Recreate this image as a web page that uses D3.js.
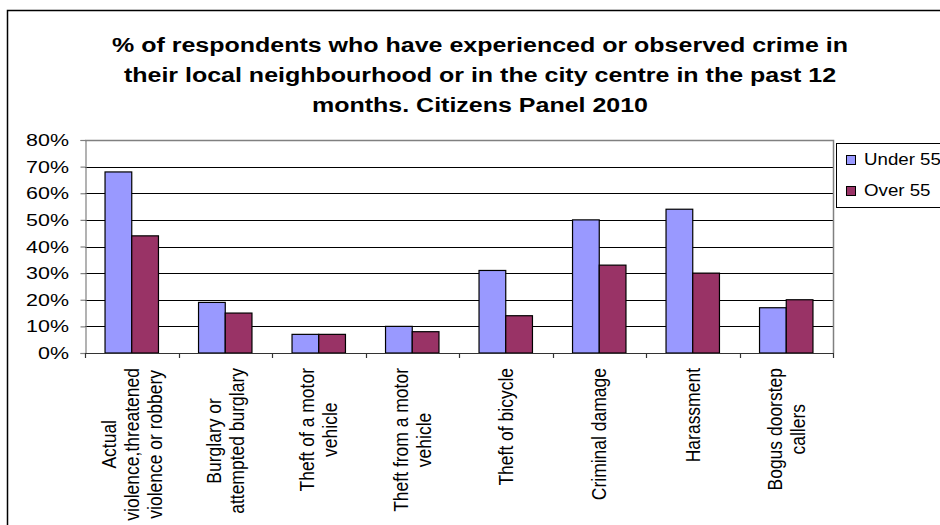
<!DOCTYPE html>
<html>
<head>
<meta charset="utf-8">
<script src="https://cdn.jsdelivr.net/npm/d3@7/dist/d3.min.js"></script>
<style>
	html, body { margin: 0; padding: 0; background: #fff; overflow: hidden; }
	svg { display: block; font-family: "Liberation Sans", Arial, sans-serif; }
</style>
</head>
<body>
<svg id="chart" width="940" height="525"></svg>
<script>
/* global d3 */

// Chart data
const titleLines = [
	'%  of respondents who have experienced or observed crime in',
	'their local neighbourhood or in the city centre in the past 12',
	'months. Citizens Panel 2010',
];
const categories = [
	[ 'Actual', 'violence,threatened', 'violence or robbery' ],
	[ 'Burglary or', 'attempted burglary' ],
	[ 'Theft of a motor', 'vehicle' ],
	[ 'Theft from a motor', 'vehicle' ],
	[ 'Theft of bicycle' ],
	[ 'Criminal damage' ],
	[ 'Harassment' ],
	[ 'Bogus doorstep', 'callers' ],
];
const seriesNames = [ 'Under 55', 'Over 55' ];
const seriesColors = [ '#9999ff', '#993366' ];
const under55 = [ 68, 19, 7, 10, 31, 50, 54, 17 ];
const over55 = [ 44, 15, 7, 8, 14, 33, 30, 20 ];
const yTicks = [ 0, 10, 20, 30, 40, 50, 60, 70, 80 ];

const plot = { left: 85, right: 833, top: 140, bottom: 353 };
const stretch = 1.25; // source picture is a little wider than tall

const svg = d3.select( '#chart' );

// Outer chart frame (runs off the picture right and bottom)
svg.append( 'rect' )
	.attr( 'x', 7.5 )
	.attr( 'y', 10.5 )
	.attr( 'width', 1000 )
	.attr( 'height', 1000 )
	.attr( 'fill', '#fff' )
	.attr( 'stroke', '#000' )
	.attr( 'stroke-width', 1.5 );

// Title
svg.append( 'g' )
	.selectAll( 'text' )
	.data( titleLines )
	.join( 'text' )
	.attr( 'transform', ( d, i ) => `translate(480,${ 52 + i * 30 }) scale(${ stretch },1)` )
	.attr( 'text-anchor', 'middle' )
	.attr( 'font-size', 20 )
	.attr( 'font-weight', 'bold' )
	.attr( 'fill', '#000' )
	.text( ( d ) => d );

// Scales
const keys = categories.map( ( d, i ) => i );
const x = d3.scaleBand()
	.domain( keys )
	.range( [ plot.left, plot.right ] )
	.paddingInner( 1.5 / 3.5 )
	.paddingOuter( 0.75 / 3.5 );

const xSeries = d3.scaleBand()
	.domain( seriesNames )
	.range( [ 0, x.bandwidth() ] );

const y = d3.scaleLinear()
	.domain( [ 0, 80 ] )
	.range( [ plot.bottom, plot.top ] );

// Gridlines
svg.append( 'g' )
	.selectAll( 'line' )
	.data( yTicks.filter( ( d ) => d > 0 && d < 80 ) )
	.join( 'line' )
	.attr( 'x1', plot.left )
	.attr( 'x2', plot.right )
	.attr( 'y1', ( d ) => Math.round( y( d ) ) + 0.5 )
	.attr( 'y2', ( d ) => Math.round( y( d ) ) + 0.5 )
	.attr( 'stroke', '#000' );

// Plot area border (top and right)
svg.append( 'path' )
	.attr( 'd', `M${ plot.left },${ plot.top + 0.5 }H${ plot.right + 0.5 }V${ plot.bottom }` )
	.attr( 'fill', 'none' )
	.attr( 'stroke', '#808080' )
	.attr( 'stroke-width', 1.5 );

// Bars
const rows = categories.map( ( c, i ) => ( { key: i, values: [ under55[ i ], over55[ i ] ] } ) );

svg.append( 'g' )
	.selectAll( 'g' )
	.data( rows )
	.join( 'g' )
	.attr( 'transform', ( d ) => `translate(${ x( d.key ) },0)` )
	.selectAll( 'rect' )
	.data( ( d ) => d.values.map( ( v, j ) => ( { name: seriesNames[ j ], value: v, color: seriesColors[ j ] } ) ) )
	.join( 'rect' )
	.attr( 'x', ( d ) => xSeries( d.name ) )
	.attr( 'y', ( d ) => y( d.value ) )
	.attr( 'width', xSeries.bandwidth() )
	.attr( 'height', ( d ) => y( 0 ) - y( d.value ) )
	.attr( 'fill', ( d ) => d.color )
	.attr( 'stroke', '#000' )
	.attr( 'stroke-width', 1.2 );

// Y axis
const yAxis = svg.append( 'g' )
	.attr( 'transform', `translate(${ plot.left + 0.5 },0)` )
	.call( d3.axisLeft( y ).tickValues( yTicks ).tickSize( 5 ).tickFormat( '' ) );
yAxis.selectAll( 'line, path' ).attr( 'stroke', '#808080' ).attr( 'stroke-width', 1.2 );

svg.append( 'g' )
	.selectAll( 'text' )
	.data( yTicks )
	.join( 'text' )
	.attr( 'transform', ( d ) => `translate(69,${ y( d ) + 6 }) scale(1.3,1)` )
	.attr( 'text-anchor', 'end' )
	.attr( 'font-size', 16.5 )
	.attr( 'fill', '#000' )
	.text( ( d ) => d + '%' );

// X axis with ticks between categories
const step = x.step();
svg.append( 'line' )
	.attr( 'x1', plot.left )
	.attr( 'x2', plot.right + 1 )
	.attr( 'y1', plot.bottom + 0.5 )
	.attr( 'y2', plot.bottom + 0.5 )
	.attr( 'stroke', '#333' )
	.attr( 'stroke-width', 1.2 );

svg.append( 'g' )
	.selectAll( 'line' )
	.data( d3.range( categories.length + 1 ) )
	.join( 'line' )
	.attr( 'x1', ( d ) => Math.round( plot.left + d * step ) + 0.5 )
	.attr( 'x2', ( d ) => Math.round( plot.left + d * step ) + 0.5 )
	.attr( 'y1', plot.bottom )
	.attr( 'y2', plot.bottom + 5 )
	.attr( 'stroke', '#333' )
	.attr( 'stroke-width', 1.2 );

// Rotated category labels, lines centred on each other, top of block at labelTop
const labelTop = 368;
const labelStretch = 1.15;
const lineGap = 20;
const labels = svg.append( 'g' )
	.selectAll( 'text' )
	.data( rows )
	.join( 'text' )
	.attr( 'font-size', 17.5 )
	.attr( 'fill', '#000' )
	.attr( 'text-anchor', 'middle' );

labels.each( function( d ) {
	const lines = categories[ d.key ];
	const text = d3.select( this );
	const cx = x( d.key ) + x.bandwidth() / 2;
	text.attr( 'transform', `translate(${ cx },${ labelTop }) scale(${ labelStretch },1) rotate(-90)` );
	text.selectAll( 'tspan' )
		.data( lines )
		.join( 'tspan' )
		.attr( 'y', ( l, i ) => ( i - ( lines.length - 1 ) / 2 ) * lineGap + 6 )
		.text( ( l ) => l );
	const maxLen = d3.max( text.selectAll( 'tspan' ).nodes(), ( n ) => n.getComputedTextLength() );
	text.selectAll( 'tspan' ).attr( 'x', -maxLen / 2 );
} );

// Legend
const legend = svg.append( 'g' );
legend.append( 'rect' )
	.attr( 'x', 836.5 )
	.attr( 'y', 143.5 )
	.attr( 'width', 200 )
	.attr( 'height', 64 )
	.attr( 'fill', '#fff' )
	.attr( 'stroke', '#000' );

const items = legend.selectAll( 'g' )
	.data( seriesNames )
	.join( 'g' )
	.attr( 'transform', ( d, i ) => `translate(846,${ 155 + i * 31 })` );

items.append( 'rect' )
	.attr( 'x', 0.5 )
	.attr( 'y', 0.5 )
	.attr( 'width', 9 )
	.attr( 'height', 9 )
	.attr( 'fill', ( d, i ) => seriesColors[ i ] )
	.attr( 'stroke', '#000' );

items.append( 'text' )
	.attr( 'transform', `translate(18,10) scale(1.1,1)` )
	.attr( 'font-size', 17 )
	.attr( 'fill', '#000' )
	.text( ( d ) => d );
</script>
</body>
</html>
